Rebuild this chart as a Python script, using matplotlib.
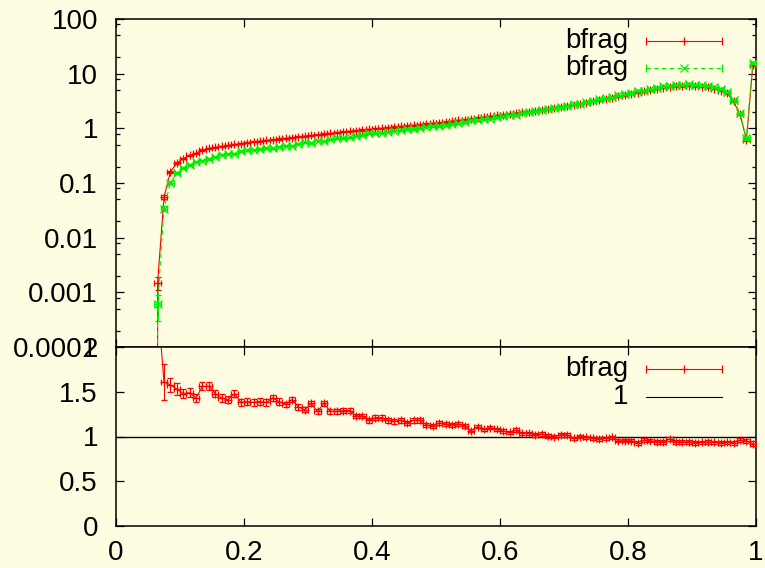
import numpy as np
import matplotlib
matplotlib.use("Agg")
import matplotlib.pyplot as plt
from matplotlib.ticker import FixedLocator, FixedFormatter, LogLocator, NullFormatter

plt.rcParams["font.family"] = ["Liberation Sans", "DejaVu Sans"]

BG = "#fffde1"
RED = "#ff0000"
GREEN = "#00ee00"

# bin centres (bin width 0.01)
x_centres = [
    0.055, 0.065, 0.075, 0.085, 0.095, 0.105, 0.115, 0.125, 0.135, 0.145,
    0.155, 0.165, 0.175, 0.185, 0.195, 0.205, 0.215, 0.225, 0.235, 0.245,
    0.255, 0.265, 0.275, 0.285, 0.295, 0.305, 0.315, 0.325, 0.335, 0.345,
    0.355, 0.365, 0.375, 0.385, 0.395, 0.405, 0.415, 0.425, 0.435, 0.445,
    0.455, 0.465, 0.475, 0.485, 0.495, 0.505, 0.515, 0.525, 0.535, 0.545,
    0.555, 0.565, 0.575, 0.585, 0.595, 0.605, 0.615, 0.625, 0.635, 0.645,
    0.655, 0.665, 0.675, 0.685, 0.695, 0.705, 0.715, 0.725, 0.735, 0.745,
    0.755, 0.765, 0.775, 0.785, 0.795, 0.805, 0.815, 0.825, 0.835, 0.845,
    0.855, 0.865, 0.875, 0.885, 0.895, 0.905, 0.915, 0.925, 0.935, 0.945,
    0.955, 0.965, 0.975, 0.985, 0.995,
]
bin_half = 0.005

bfrag_a = [
    0.0, 0.0015, 0.055, 0.16, 0.23, 0.28, 0.32, 0.35, 0.40, 0.43,
    0.449, 0.468, 0.486, 0.507, 0.527, 0.55, 0.566, 0.583, 0.601, 0.619,
    0.64, 0.659, 0.679, 0.70, 0.721, 0.743, 0.766, 0.789, 0.811, 0.836,
    0.861, 0.883, 0.906, 0.931, 0.955, 0.98, 1.005, 1.03, 1.059, 1.086,
    1.114, 1.143, 1.175, 1.205, 1.236, 1.27, 1.31, 1.355, 1.40, 1.45,
    1.50, 1.55, 1.61, 1.66, 1.72, 1.78, 1.84, 1.90, 1.97, 2.03,
    2.10, 2.19, 2.28, 2.38, 2.48, 2.58, 2.69, 2.80, 2.95, 3.11,
    3.28, 3.46, 3.64, 3.84, 4.05, 4.27, 4.49, 4.72, 4.98, 5.24,
    5.51, 5.79, 5.89, 5.94, 5.96, 5.89, 5.75, 5.60, 5.25, 4.9,
    4.4, 3.1, 1.8, 0.62, 14.4,
]
bfrag_b = [
    0.0, 0.0006, 0.034, 0.102, 0.150, 0.189, 0.215, 0.245, 0.256, 0.276,
    0.303, 0.327, 0.345, 0.343, 0.382, 0.396, 0.410, 0.419, 0.436, 0.433,
    0.460, 0.485, 0.482, 0.526, 0.555, 0.542, 0.598, 0.576, 0.634, 0.653,
    0.667, 0.684, 0.737, 0.757, 0.809, 0.810, 0.831, 0.873, 0.905, 0.920,
    0.969, 0.969, 0.996, 1.066, 1.104, 1.104, 1.149, 1.199, 1.228, 1.295,
    1.408, 1.396, 1.491, 1.509, 1.593, 1.679, 1.757, 1.776, 1.903, 1.961,
    2.059, 2.126, 2.269, 2.38, 2.431, 2.529, 2.745, 2.80, 2.98, 3.173,
    3.381, 3.531, 3.677, 4.029, 4.25, 4.481, 4.828, 4.917, 5.226, 5.574,
    5.862, 5.969, 6.266, 6.319, 6.34, 6.333, 6.15, 5.957, 5.615, 5.269,
    4.706, 3.333, 1.875, 0.653, 15.65,
]
# relative uncertainties
rel_err_a = [0.0, 0.27, 0.09, 0.04, 0.035, 0.03, 0.03, 0.03, 0.03, 0.03] + [0.025] * 40 + [0.02] * 40 + [0.025, 0.03, 0.04, 0.05, 0.04]
rel_err_b = [0.0, 0.50, 0.10, 0.045, 0.04, 0.035, 0.03, 0.03, 0.03, 0.03] + [0.025] * 40 + [0.02] * 40 + [0.025, 0.03, 0.04, 0.05, 0.04]

ratio = [
    np.nan, 2.5, 1.61, 1.575, 1.53, 1.48, 1.49, 1.43, 1.56, 1.56,
    1.48, 1.43, 1.41, 1.48, 1.38, 1.39, 1.38, 1.39, 1.38, 1.43,
    1.39, 1.36, 1.41, 1.33, 1.30, 1.37, 1.28, 1.37, 1.28, 1.28,
    1.29, 1.29, 1.23, 1.23, 1.18, 1.21, 1.21, 1.18, 1.17, 1.18,
    1.15, 1.18, 1.18, 1.13, 1.12, 1.15, 1.14, 1.13, 1.14, 1.12,
    1.065, 1.11, 1.08, 1.10, 1.08, 1.06, 1.047, 1.07, 1.035, 1.035,
    1.02, 1.03, 1.005, 1.00, 1.02, 1.02, 0.98, 1.00, 0.99, 0.98,
    0.97, 0.98, 0.99, 0.953, 0.953, 0.953, 0.93, 0.96, 0.953, 0.94,
    0.94, 0.97, 0.94, 0.94, 0.94, 0.93, 0.935, 0.94, 0.935, 0.93,
    0.935, 0.93, 0.96, 0.95, 0.92,
]
ratio_err = [
    0.0, 0.30, 0.20, 0.08, 0.065, 0.055, 0.05, 0.045, 0.045, 0.045,
    0.04, 0.04, 0.04, 0.04, 0.035, 0.035, 0.035, 0.035, 0.035, 0.035,
    0.035, 0.03, 0.03, 0.03, 0.03, 0.03, 0.03, 0.03, 0.03, 0.03,
    0.03, 0.03, 0.025, 0.025, 0.025, 0.025, 0.025, 0.025, 0.025, 0.025,
    0.025, 0.025, 0.025, 0.025, 0.025, 0.025, 0.025, 0.025, 0.025, 0.02,
] + [0.02] * 40 + [0.02, 0.02, 0.025, 0.025, 0.03]

x_ticks = [0, 0.2, 0.4, 0.6, 0.8, 1]
x_labels = ["0", "0.2", "0.4", "0.6", "0.8", "1"]
top_ticks = [1e-4, 1e-3, 1e-2, 1e-1, 1, 10, 100]
top_labels = ["0.0001", "0.001", "0.01", "0.1", "1", "10", "100"]
bot_ticks = [0, 0.5, 1, 1.5, 2]
bot_labels = ["0", "0.5", "1", "1.5", "2"]

FS = 20
W, H = 765, 568

fig = plt.figure(figsize=(W / 100, H / 100), dpi=100, facecolor=BG)
ax1 = fig.add_axes([116 / W, 1 - 347 / H, 640 / W, 328 / H], facecolor=BG)
ax2 = fig.add_axes([116 / W, 1 - 526 / H, 640 / W, 179 / H], facecolor=BG)

a = np.array(bfrag_a)
b = np.array(bfrag_b)
style = dict(lw=0.8, ms=5.5, mew=0.9, capsize=2.3, elinewidth=0.8, capthick=0.8)
ax1.errorbar(x_centres, a, xerr=bin_half, yerr=a * np.array(rel_err_a),
             color=RED, marker="+", ls="-", zorder=3, **style)
ax1.errorbar(x_centres, b, xerr=bin_half, yerr=b * np.array(rel_err_b),
             color=GREEN, marker="x", ls=(0, (4, 3)), zorder=4, **style)
ax1.set_yscale("log")
ax1.set_ylim(1e-4, 100)

ax2.axhline(1, color="black", lw=1.0, zorder=2)
ax2.errorbar(x_centres, ratio, xerr=bin_half, yerr=ratio_err,
             color=RED, marker="+", ls="-", zorder=3, **style)
ax2.set_ylim(0, 2)

for ax in (ax1, ax2):
    ax.set_xlim(0, 1)
    ax.xaxis.set_major_locator(FixedLocator(x_ticks))
    ax.tick_params(which="both", direction="in", top=True, right=True,
                   labelsize=FS, width=0.9, colors="black")
    ax.tick_params(which="major", length=5.8)
    ax.tick_params(which="minor", length=2.9)
    ax.tick_params(axis="y", pad=13)
    ax.tick_params(axis="x", pad=10)
    for s in ax.spines.values():
        s.set_linewidth(1.1)

ax1.xaxis.set_major_formatter(NullFormatter())
ax1.yaxis.set_major_locator(FixedLocator(top_ticks))
ax1.yaxis.set_major_formatter(FixedFormatter(top_labels))
ax1.yaxis.set_minor_locator(LogLocator(base=10, subs=[2, 5, 8], numticks=20))
ax1.yaxis.set_minor_formatter(NullFormatter())

ax2.xaxis.set_major_formatter(FixedFormatter(x_labels))
ax2.yaxis.set_major_locator(FixedLocator(bot_ticks))
ax2.yaxis.set_major_formatter(FixedFormatter(bot_labels))
ax2.minorticks_off()


# gnuplot style keys: text, then sample line with end caps and a point
def key_row(ax, y, label, color, marker=None, ls="-", caps=True):
    ax.text(0.800, y, label, transform=ax.transAxes, ha="right", va="center",
            fontsize=FS)
    ax.plot([0.828, 0.947], [y, y], transform=ax.transAxes, color=color,
            lw=0.8, ls=ls, clip_on=False)
    if caps:
        ax.plot([0.828, 0.947], [y, y], transform=ax.transAxes, color=color,
                ls="none", marker="|", ms=5.5, mew=0.9, clip_on=False)
    if marker:
        ax.plot([0.8875], [y], transform=ax.transAxes, color=color,
                ls="none", marker=marker, ms=5.5, mew=0.9, clip_on=False)


key_row(ax1, 0.933, "bfrag", RED, "+")
key_row(ax1, 0.851, "bfrag", GREEN, "x", ls=(0, (4, 3)))
key_row(ax2, 0.877, "bfrag", RED, "+")
key_row(ax2, 0.721, "1", "black", caps=False)

fig.savefig("out.png", dpi=100, facecolor=BG)
